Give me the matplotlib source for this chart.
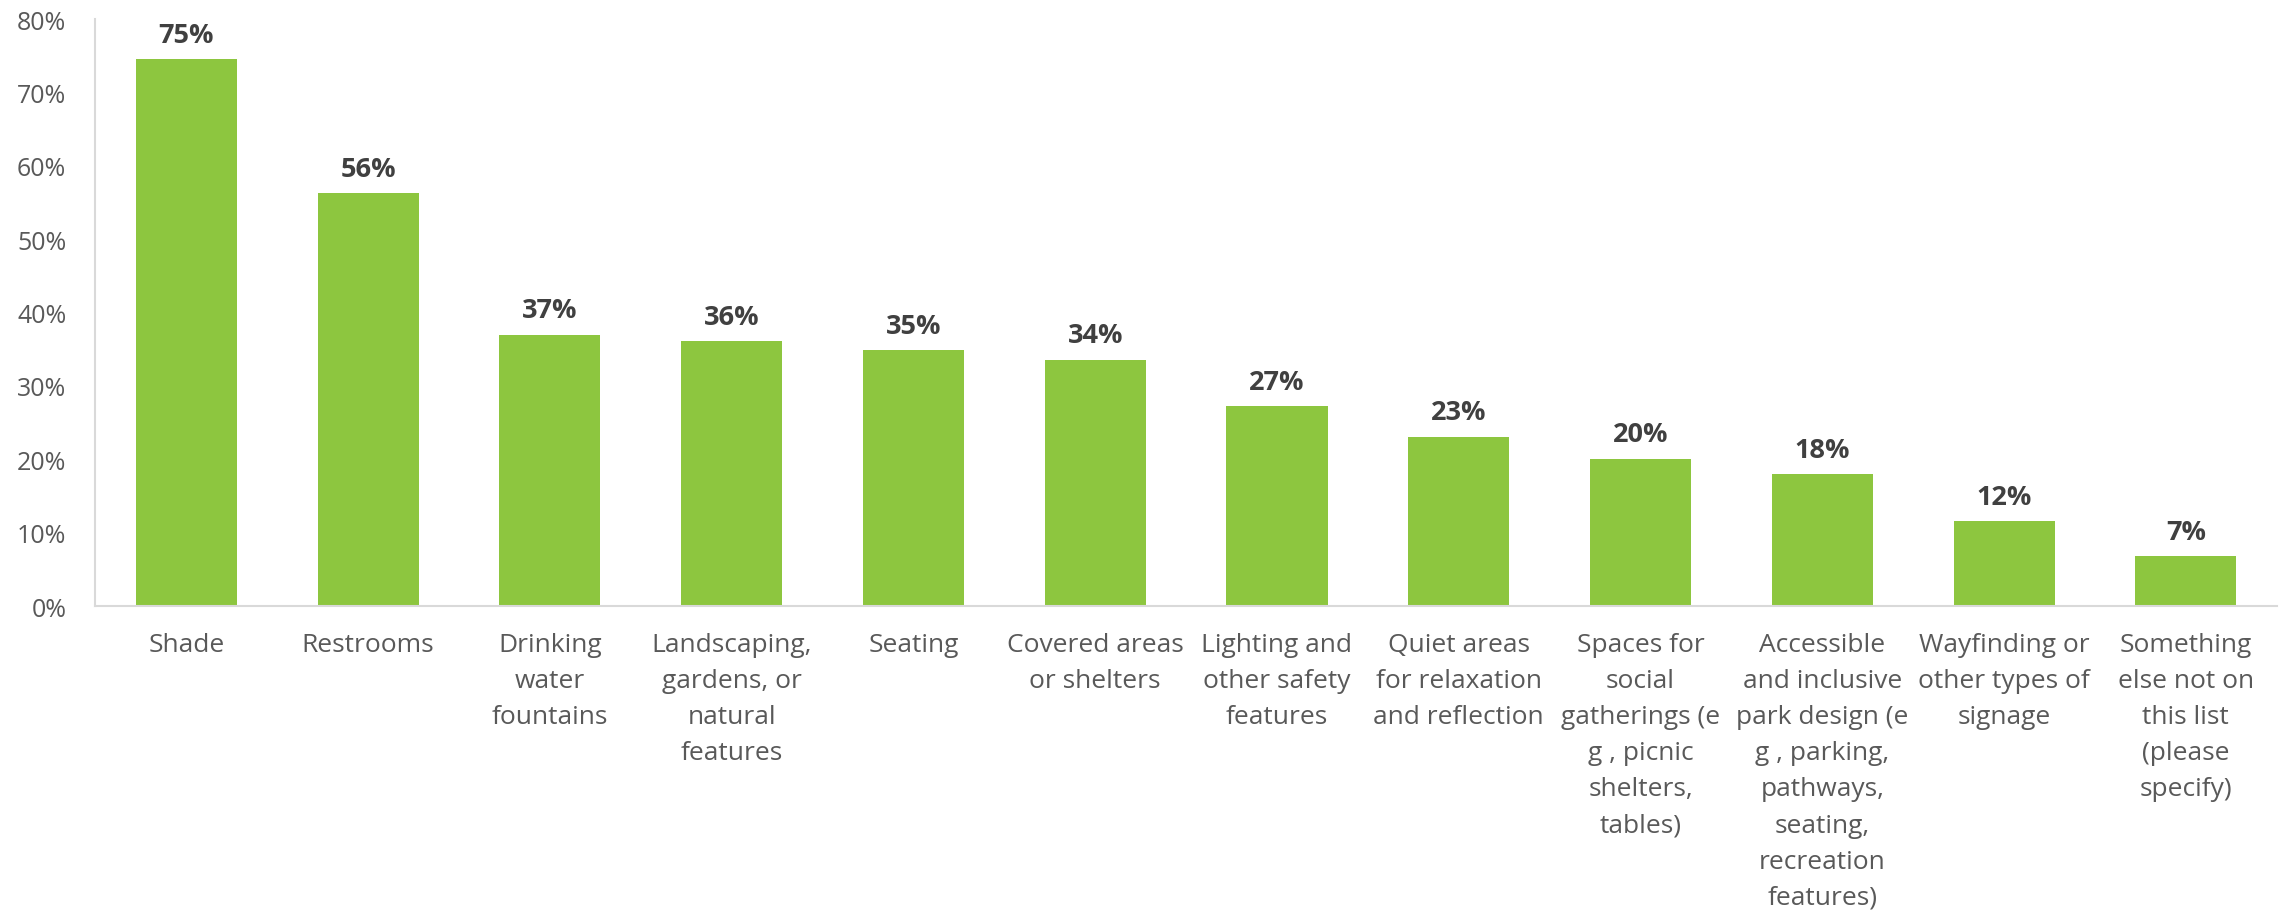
import numpy as np
import matplotlib
matplotlib.use('Agg')
import matplotlib.pyplot as plt
from matplotlib.ticker import PercentFormatter

plt.rcParams['font.family'] = ['Open Sans', 'DejaVu Sans']

categories = [
    "Shade",
    "Restrooms",
    "Drinking\nwater\nfountains",
    "Landscaping,\ngardens, or\nnatural\nfeatures",
    "Seating",
    "Covered areas\nor shelters",
    "Lighting and\nother safety\nfeatures",
    "Quiet areas\nfor relaxation\nand reflection",
    "Spaces for\nsocial\ngatherings (e\ng , picnic\nshelters,\ntables)",
    "Accessible\nand inclusive\npark design (e\ng , parking,\npathways,\nseating,\nrecreation\nfeatures)",
    "Wayfinding or\nother types of\nsignage",
    "Something\nelse not on\nthis list\n(please\nspecify)",
]
values = [74.6, 56.3, 37.0, 36.1, 34.9, 33.6, 27.2, 23.1, 20.1, 18.0, 11.6, 6.8]
value_labels = ["75%", "56%", "37%", "36%", "35%", "34%", "27%", "23%", "20%", "18%", "12%", "7%"]

green = '#8DC63F'
tick_color = '#595959'
label_color = '#404040'

fig = plt.figure(figsize=(22.79, 9.12), dpi=100)
ax = fig.add_axes([0.0419, 0.3344, 0.9571, 0.6436])

x = np.arange(len(categories))
bars = ax.bar(x, values, width=0.556, color=green)

for b, lab in zip(bars, value_labels):
    ax.annotate(lab, (b.get_x() + b.get_width() / 2, b.get_height()),
                xytext=(0, 8), textcoords='offset points',
                ha='center', va='bottom', fontsize=19.5, fontweight='bold',
                color=label_color)

ax.set_xlim(-0.5, len(categories) - 0.5)
ax.set_ylim(0, 80)
ax.set_yticks(np.arange(0, 81, 10))
ax.yaxis.set_major_formatter(PercentFormatter(decimals=0))
ax.set_xticks(x)
ax.set_xticklabels(categories, fontsize=19, color=tick_color, linespacing=1.58, va='top')
ax.tick_params(axis='y', labelsize=18, labelcolor=tick_color, length=0, pad=21)
ax.tick_params(axis='x', length=0, pad=19)

for s in ['top', 'right']:
    ax.spines[s].set_visible(False)
for s in ['left', 'bottom']:
    ax.spines[s].set_color('#D9D9D9')
    ax.spines[s].set_linewidth(1.5)

fig.savefig('out.png', dpi=100)
